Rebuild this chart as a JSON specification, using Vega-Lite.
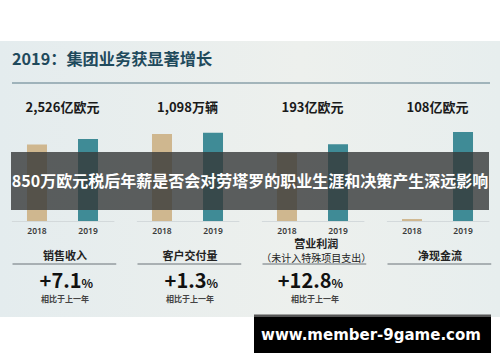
{
  "$schema": "https://vega.github.io/schema/vega-lite/v6.json",
  "width": 500,
  "height": 362,
  "autosize": {"type": "fit", "contains": "padding"},
  "padding": 0,
  "background": "white",
  "config": {"view": {"stroke": null}, "text": {"font": "Noto Sans CJK SC"}},
  "datasets": {
    "bars": [
      {"panel": "销售收入", "year": "2018", "value": 2359},
      {"panel": "销售收入", "year": "2019", "value": 2526},
      {"panel": "客户交付量", "year": "2018", "value": 1083},
      {"panel": "客户交付量", "year": "2019", "value": 1098},
      {"panel": "营业利润", "year": "2018", "value": 171},
      {"panel": "营业利润", "year": "2019", "value": 193},
      {"panel": "净现金流", "year": "2018", "value": 2.4},
      {"panel": "净现金流", "year": "2019", "value": 108}
    ],
    "labels": [
      {"panel": "销售收入", "amount": "2,526亿欧元", "name": "销售收入", "sub": null, "pct": "+7.1", "note": "相比于上一年"},
      {"panel": "客户交付量", "amount": "1,098万辆", "name": "客户交付量", "sub": null, "pct": "+1.3", "note": "相比于上一年"},
      {"panel": "营业利润", "amount": "193亿欧元", "name": "营业利润", "sub": "（未计入特殊项目支出）", "pct": "+12.8", "note": "相比于上一年"},
      {"panel": "净现金流", "amount": "108亿欧元", "name": "净现金流", "sub": null, "pct": null, "note": null}
    ]
  },
  "layer": [
    {
      "data": {"values": [{}]},
      "mark": {"type": "rect", "fill": {"gradient": "linear", "stops": [{"offset": 0, "color": "#e4ecee"}, {"offset": 0.6, "color": "#edf0ed"}, {"offset": 1, "color": "#e7eeee"}]}},
      "encoding": {"x": {"value": 0}, "x2": {"value": 500}, "y": {"value": 41}, "y2": {"value": 317}}
    },
    {
      "data": {"values": [{}]},
      "mark": {"type": "text", "text": "2019：集团业务获显著增长", "align": "left", "baseline": "middle", "fontSize": 16.2, "fontWeight": "bold", "color": "#1f4a5c"},
      "encoding": {"x": {"value": 12}, "y": {"value": 60}}
    },
    {
      "data": {"values": [{}]},
      "mark": {"type": "rule", "color": "#5a7a88", "strokeWidth": 1.2},
      "encoding": {"x": {"value": 12}, "x2": {"value": 490}, "y": {"value": 83}}
    },
    {
      "data": {"name": "bars"},
      "transform": [{"filter": "datum.panel === '销售收入'"}],
      "mark": {"type": "bar"},
      "encoding": {
        "x": {"field": "panel", "type": "nominal", "axis": null, "scale": {"type": "band", "domain": ["销售收入", "客户交付量", "营业利润", "净现金流"], "paddingInner": 0, "paddingOuter": 0}},
        "xOffset": {"field": "year", "type": "nominal", "scale": {"type": "band", "domain": ["2018", "2019"], "paddingInner": 0.608, "paddingOuter": 0.529}},
        "y": {"field": "value", "type": "quantitative", "axis": null, "scale": {"domain": [-4343.5, 6807.9], "nice": false, "zero": false}},
        "y2": {"datum": 0},
        "color": {"field": "year", "type": "nominal", "legend": null, "scale": {"domain": ["2018", "2019"], "range": ["#cfb78f", "#3f8b96"]}}
      }
    },
    {
      "data": {"name": "bars"},
      "transform": [{"filter": "datum.panel === '客户交付量'"}],
      "mark": {"type": "bar"},
      "encoding": {
        "x": {"field": "panel", "type": "nominal", "axis": null, "scale": {"type": "band", "domain": ["销售收入", "客户交付量", "营业利润", "净现金流"], "paddingInner": 0, "paddingOuter": 0}},
        "xOffset": {"field": "year", "type": "nominal", "scale": {"type": "band", "domain": ["2018", "2019"], "paddingInner": 0.608, "paddingOuter": 0.529}},
        "y": {"field": "value", "type": "quantitative", "axis": null, "scale": {"domain": [-1753.3, 2748.1], "nice": false, "zero": false}},
        "y2": {"datum": 0},
        "color": {"field": "year", "type": "nominal", "legend": null, "scale": {"domain": ["2018", "2019"], "range": ["#cfb78f", "#3f8b96"]}}
      }
    },
    {
      "data": {"name": "bars"},
      "transform": [{"filter": "datum.panel === '营业利润'"}],
      "mark": {"type": "bar"},
      "encoding": {
        "x": {"field": "panel", "type": "nominal", "axis": null, "scale": {"type": "band", "domain": ["销售收入", "客户交付量", "营业利润", "净现金流"], "paddingInner": 0, "paddingOuter": 0}},
        "xOffset": {"field": "year", "type": "nominal", "scale": {"type": "band", "domain": ["2018", "2019"], "paddingInner": 0.608, "paddingOuter": 0.529}},
        "y": {"field": "value", "type": "quantitative", "axis": null, "scale": {"domain": [-354.8, 556.1], "nice": false, "zero": false}},
        "y2": {"datum": 0},
        "color": {"field": "year", "type": "nominal", "legend": null, "scale": {"domain": ["2018", "2019"], "range": ["#cfb78f", "#3f8b96"]}}
      }
    },
    {
      "data": {"name": "bars"},
      "transform": [{"filter": "datum.panel === '净现金流'"}],
      "mark": {"type": "bar"},
      "encoding": {
        "x": {"field": "panel", "type": "nominal", "axis": null, "scale": {"type": "band", "domain": ["销售收入", "客户交付量", "营业利润", "净现金流"], "paddingInner": 0, "paddingOuter": 0}},
        "xOffset": {"field": "year", "type": "nominal", "scale": {"type": "band", "domain": ["2018", "2019"], "paddingInner": 0.608, "paddingOuter": 0.529}},
        "y": {"field": "value", "type": "quantitative", "axis": null, "scale": {"domain": [-171.1, 268.2], "nice": false, "zero": false}},
        "y2": {"datum": 0},
        "color": {"field": "year", "type": "nominal", "legend": null, "scale": {"domain": ["2018", "2019"], "range": ["#cfb78f", "#3f8b96"]}}
      }
    },
    {
      "data": {"name": "labels"},
      "mark": {"type": "rule", "color": "#d3d9db", "strokeWidth": 1},
      "encoding": {
        "x": {"field": "panel", "type": "nominal", "bandPosition": 0.095},
        "x2": {"field": "panel", "bandPosition": 0.915},
        "y": {"value": 221.5}
      }
    },
    {
      "data": {"name": "bars"},
      "mark": {"type": "text", "font": "Noto Sans", "fontSize": 8.5, "fontWeight": 600, "color": "#3a3a3a", "baseline": "middle"},
      "encoding": {
        "x": {"field": "panel", "type": "nominal", "bandPosition": 0.5},
        "xOffset": {"field": "year", "type": "nominal"},
        "y": {"value": 231},
        "text": {"field": "year"}
      }
    },
    {
      "data": {"name": "labels"},
      "mark": {"type": "text", "fontSize": 13, "fontWeight": "bold", "color": "#1a1a1a", "baseline": "middle"},
      "encoding": {
        "x": {"field": "panel", "type": "nominal", "bandPosition": 0.5},
        "y": {"value": 108},
        "text": {"field": "amount"}
      }
    },
    {
      "data": {"name": "labels"},
      "transform": [{"filter": "!isValid(datum.sub)"}],
      "mark": {"type": "text", "fontSize": 11, "fontWeight": "bold", "color": "#222222", "baseline": "middle"},
      "encoding": {
        "x": {"field": "panel", "type": "nominal", "bandPosition": 0.52},
        "y": {"value": 256.5},
        "text": {"field": "name"}
      }
    },
    {
      "data": {"name": "labels"},
      "transform": [{"filter": "isValid(datum.sub)"}],
      "mark": {"type": "text", "fontSize": 11, "fontWeight": "bold", "color": "#222222", "baseline": "middle"},
      "encoding": {
        "x": {"field": "panel", "type": "nominal", "bandPosition": 0.53},
        "y": {"value": 245},
        "text": {"field": "name"}
      }
    },
    {
      "data": {"name": "labels"},
      "transform": [{"filter": "isValid(datum.sub)"}],
      "mark": {"type": "text", "fontSize": 10, "fontWeight": "normal", "color": "#222222", "baseline": "middle"},
      "encoding": {
        "x": {"field": "panel", "type": "nominal", "bandPosition": 0.53},
        "y": {"value": 258.5},
        "text": {"field": "sub"}
      }
    },
    {
      "data": {"name": "labels"},
      "mark": {"type": "rule", "color": "#6a7378", "strokeWidth": 1},
      "encoding": {
        "x": {"field": "panel", "type": "nominal", "bandPosition": 0.1},
        "x2": {"field": "panel", "bandPosition": 0.93},
        "y": {"value": 264}
      }
    },
    {
      "data": {"name": "labels"},
      "transform": [{"filter": "isValid(datum.pct)"}],
      "mark": {"type": "text", "fontSize": 20, "fontWeight": "bold", "color": "#111111", "baseline": "middle", "align": "right", "dx": 19},
      "encoding": {
        "x": {"field": "panel", "type": "nominal", "bandPosition": 0.5},
        "y": {"value": 282},
        "text": {"field": "pct"}
      }
    },
    {
      "data": {"name": "labels"},
      "transform": [{"filter": "isValid(datum.pct)"}],
      "mark": {"type": "text", "text": "%", "fontSize": 12, "fontWeight": "bold", "color": "#111111", "baseline": "middle", "align": "left", "dx": 19, "dy": 2},
      "encoding": {
        "x": {"field": "panel", "type": "nominal", "bandPosition": 0.5},
        "y": {"value": 282}
      }
    },
    {
      "data": {"name": "labels"},
      "transform": [{"filter": "isValid(datum.note)"}],
      "mark": {"type": "text", "fontSize": 8, "fontWeight": "bold", "color": "#444444", "baseline": "middle"},
      "encoding": {
        "x": {"field": "panel", "type": "nominal", "bandPosition": 0.52},
        "y": {"value": 299.5},
        "text": {"field": "note"}
      }
    },
    {
      "data": {"values": [{}]},
      "mark": {"type": "rect", "fill": "#363838", "opacity": 0.8},
      "encoding": {"x": {"value": 11}, "x2": {"value": 489}, "y": {"value": 152}, "y2": {"value": 210}}
    },
    {
      "data": {"values": [{}]},
      "mark": {"type": "text", "text": "850万欧元税后年薪是否会对劳塔罗的职业生涯和决策产生深远影响", "fontSize": 16, "fontWeight": "bold", "color": "white", "baseline": "middle", "align": "center"},
      "encoding": {"x": {"value": 250}, "y": {"value": 182}}
    },
    {
      "data": {"values": [{}]},
      "mark": {"type": "rect", "fill": "#555555"},
      "encoding": {"x": {"value": 254}, "x2": {"value": 491}, "y": {"value": 314.5}, "y2": {"value": 317}}
    },
    {
      "data": {"values": [{}]},
      "mark": {"type": "rect", "fill": "#000000"},
      "encoding": {"x": {"value": 254}, "x2": {"value": 491}, "y": {"value": 317}, "y2": {"value": 353}}
    },
    {
      "data": {"values": [{}]},
      "mark": {"type": "text", "text": "www.member-9game.com", "font": "DejaVu Sans", "fontSize": 15, "fontWeight": "bold", "color": "white", "baseline": "middle", "align": "center"},
      "encoding": {"x": {"value": 371}, "y": {"value": 335}}
    }
  ],
  "resolve": {"scale": {"y": "independent"}}
}
